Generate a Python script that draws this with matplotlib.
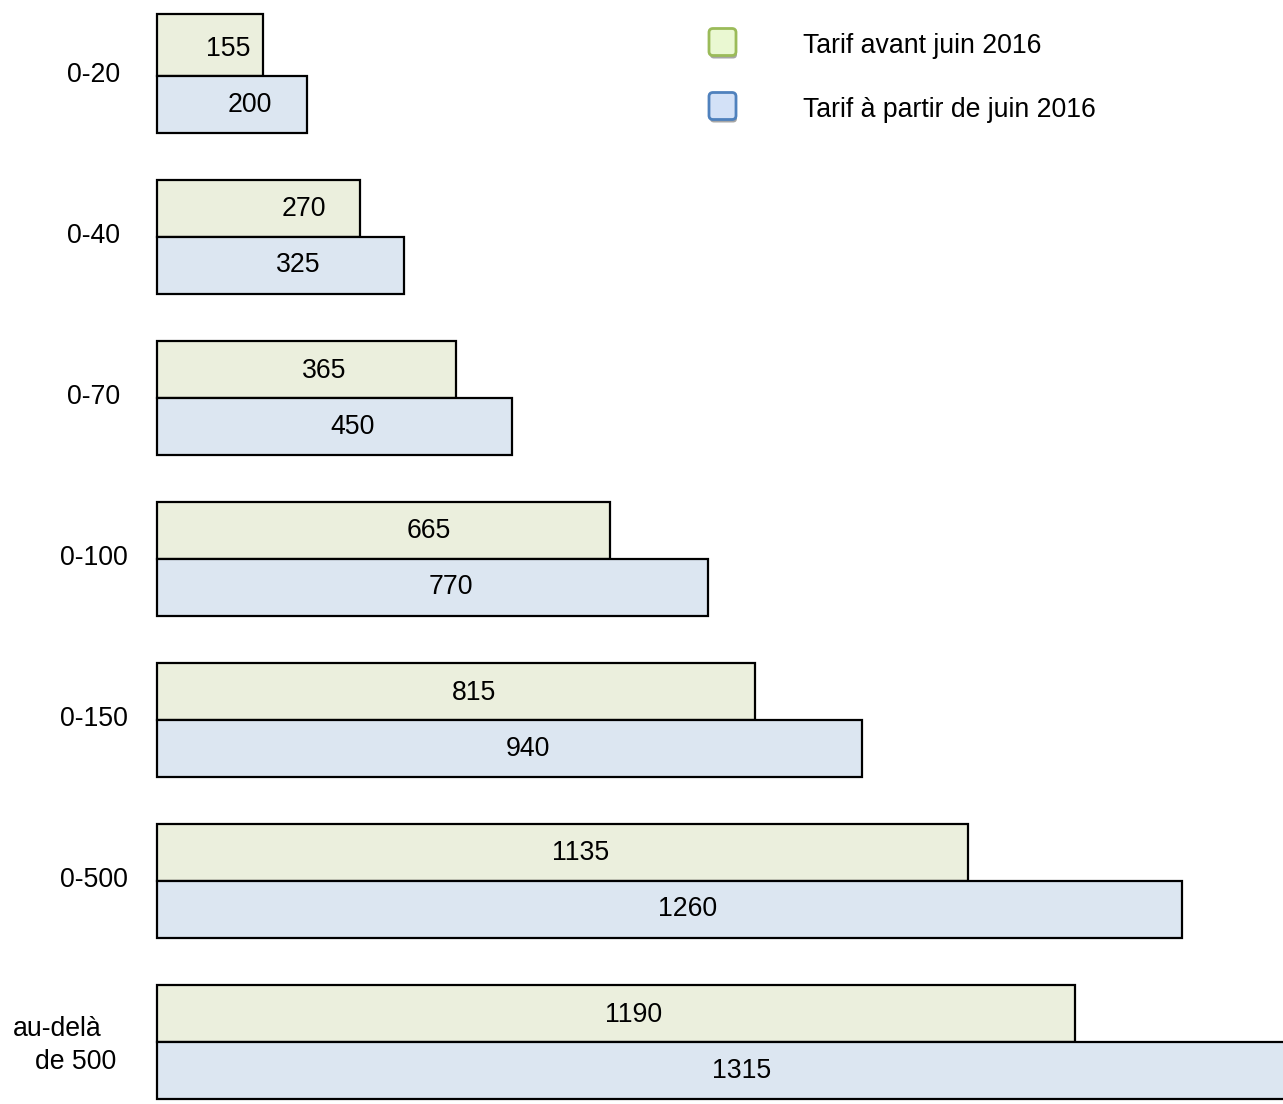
import matplotlib
matplotlib.use("Agg")
import matplotlib.pyplot as plt
from matplotlib.patches import FancyBboxPatch

plt.rcParams['font.family'] = ['Liberation Sans', 'DejaVu Sans']

# ---- data ----
categories = ["0-20", "0-40", "0-70", "0-100", "0-150", "0-500", "au-delà\nde 500"]
tarif_avant_labels = ["155", "270", "365", "665", "815", "1135", "1190"]
tarif_apres_labels = ["200", "325", "450", "770", "940", "1260", "1315"]
# drawn bar lengths (the original diagram is not to scale)
tarif_avant_length = [106, 203, 299, 453, 598, 811, 918]
tarif_apres_length = [150, 247, 355, 551, 705, 1025, 1134]
legend_labels = ["Tarif avant juin 2016", "Tarif à partir de juin 2016"]

# ---- style ----
W, H = 1283, 1104
fig = plt.figure(figsize=(W / 100, H / 100), dpi=100)
ax = fig.add_axes([0, 0, 1, 1])
ax.set_xlim(0, W)
ax.set_ylim(H, 0)
ax.axis('off')

left = 157
first_mid = 76
pitch = 161
bh = 57
green_fill = "#ebefdd"
blue_fill = "#dce6f1"
fs = 19.2
text_offsets_top = [18, 45, 18, 45, 18, 18, 18]
text_offsets_bot = [18, 18, 18, 18, 18, 18, 18]

for i, cat in enumerate(categories):
    mid = first_mid + pitch * i
    top_h = bh + (5 if i == 0 else 0)
    ax.barh(mid - top_h / 2, tarif_avant_length[i], height=top_h, left=left,
            color=green_fill, edgecolor="black", linewidth=1.6, zorder=2)
    ax.barh(mid + bh / 2, tarif_apres_length[i], height=bh, left=left,
            color=blue_fill, edgecolor="black", linewidth=1.6, zorder=3)
    ax.text(left + tarif_avant_length[i] / 2 + text_offsets_top[i], mid - bh / 2 + 1,
            tarif_avant_labels[i], ha="center", va="center", fontsize=fs, zorder=5)
    ax.text(left + tarif_apres_length[i] / 2 + text_offsets_bot[i], mid + bh / 2,
            tarif_apres_labels[i], ha="center", va="center", fontsize=fs, zorder=5)
    if "\n" in cat:
        l1, l2 = cat.split("\n")
        ax.text(13, mid - 13, l1, ha="left", va="center", fontsize=fs)
        ax.text(35, mid + 20, l2, ha="left", va="center", fontsize=fs)
    else:
        ax.text(94, mid - 1, cat, ha="center", va="center", fontsize=fs)

# ---- legend ----
legend_specs = [
    (42, "#eaf8d2", "#9bbb59"),
    (106, "#d3e1f7", "#4f81bd"),
]
for (cy, fill, edge), lab in zip(legend_specs, legend_labels):
    x0, s = 709, 27
    shadow = FancyBboxPatch((x0 + 1, cy - s / 2 + 3), s, s,
                            boxstyle="round,pad=0,rounding_size=4",
                            facecolor="#a6a6a6", edgecolor="none", zorder=4)
    ax.add_patch(shadow)
    box = FancyBboxPatch((x0, cy - s / 2), s, s,
                         boxstyle="round,pad=0,rounding_size=4",
                         facecolor=fill, edgecolor=edge, linewidth=2, zorder=5)
    ax.add_patch(box)
    ax.text(803, cy + 4, lab, ha="left", va="center", fontsize=fs)

fig.savefig("out.png", dpi=100)
